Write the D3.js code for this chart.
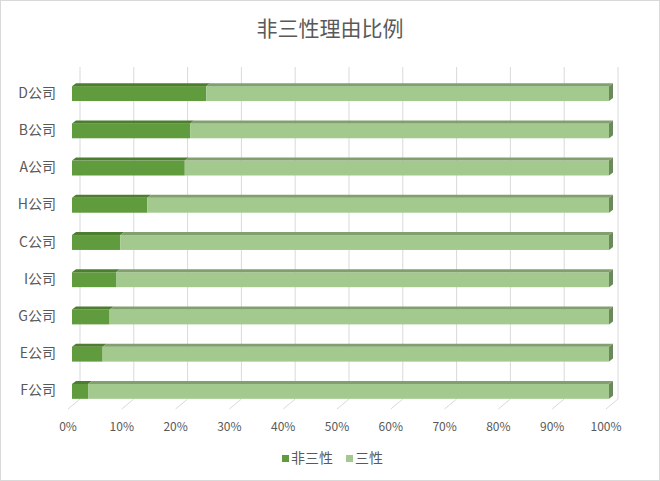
<!DOCTYPE html>
<html>
<head>
<meta charset="utf-8">
<script src="https://cdn.jsdelivr.net/npm/d3@7/dist/d3.min.js"></script>
<style>
  body { margin: 0; background: #fff; }
  svg { display: block; font-family: "Noto Sans CJK SC", "Noto Sans", sans-serif; }
</style>
</head>
<body>
<div id="chart"></div>
<script>
// data, top to bottom
const categories = ["D公司", "B公司", "A公司", "H公司", "C公司", "I公司", "G公司", "E公司", "F公司"];
const nonSanxing = [0.25, 0.22, 0.21, 0.14, 0.09, 0.082, 0.07, 0.057, 0.03];
const sanxing = nonSanxing.map(v => 1 - v);
const seriesNames = ["非三性", "三性"];
const tickValues = [0, 0.1, 0.2, 0.3, 0.4, 0.5, 0.6, 0.7, 0.8, 0.9, 1];

const width = 660, height = 481;
const colors = {
  front: ["#609b3d", "#a3c98e"],
  top: ["#4d7d2f", "#819f6f"],
  side: "#6b8a5b"
};

const svg = d3.select("#chart").append("svg")
  .attr("width", width)
  .attr("height", height);

svg.append("rect")
  .attr("x", 0.5).attr("y", 0.5)
  .attr("width", width - 1).attr("height", height - 1)
  .attr("fill", "#fff")
  .attr("stroke", "#d9d9d9");

// title
svg.append("text")
  .attr("x", width / 2)
  .attr("y", 36)
  .attr("text-anchor", "middle")
  .attr("font-size", 21)
  .attr("fill", "#595959")
  .text("非三性理由比例");

// 3d-ish geometry: back wall, bar plane, floor front edge
const xBack = d3.scaleLinear().domain([0, 1]).range([80, 618]);
const xFront = d3.scaleLinear().domain([0, 1]).range([72, 609]);
const xFloor = d3.scaleLinear().domain([0, 1]).range([68, 606]);
const gridTop = 67, gridBottom = 399, floorY = 409;
const depth = { dx: 4, dy: 3 };

const y = d3.scaleBand()
  .domain(categories)
  .range([74, 409]);
const barH = y.bandwidth() * 0.4;

// gridlines on back wall + floor diagonals
const grid = svg.append("g").attr("stroke", "#d9d9d9").attr("fill", "none");
grid.selectAll("path")
  .data(tickValues)
  .enter()
  .append("path")
  .attr("d", d => `M${xBack(d)},${gridTop}V${gridBottom}L${xFloor(d)},${floorY}`);

// tick labels
svg.append("g")
  .selectAll("text")
  .data(tickValues)
  .enter()
  .append("text")
  .attr("x", d => xFloor(d))
  .attr("y", floorY + 22)
  .attr("text-anchor", "middle")
  .attr("font-size", 12)
  .attr("fill", "#595959")
  .text(d3.format(".0%"));

// category labels
svg.append("g")
  .selectAll("text")
  .data(categories)
  .enter()
  .append("text")
  .attr("x", 56)
  .attr("y", d => y(d) + y.bandwidth() / 2 + 5)
  .attr("text-anchor", "end")
  .attr("font-size", 14)
  .attr("fill", "#595959")
  .text(d => d);

// stacked bars
const rows = categories.map((c, i) => ({ name: c, values: [nonSanxing[i], sanxing[i]] }));
const bars = svg.append("g");

rows.forEach(row => {
  const yTop = y(row.name) + (y.bandwidth() - barH) / 2 + 1;
  let acc = 0;
  const g = bars.append("g");
  row.values.forEach((v, k) => {
    const x0 = xFront(acc), x1 = xFront(acc + v);
    acc += v;
    g.append("rect")
      .attr("x", x0).attr("y", yTop)
      .attr("width", x1 - x0).attr("height", barH)
      .attr("fill", colors.front[k]);
    g.append("path")
      .attr("d", `M${x0},${yTop}L${x0 + depth.dx},${yTop - depth.dy}L${x1 + depth.dx},${yTop - depth.dy}L${x1},${yTop}Z`)
      .attr("fill", colors.top[k]);
  });
  const xe = xFront(acc);
  g.append("path")
    .attr("d", `M${xe},${yTop}L${xe + depth.dx},${yTop - depth.dy}L${xe + depth.dx},${yTop + barH - depth.dy}L${xe},${yTop + barH}Z`)
    .attr("fill", colors.side);
});

// legend
const legend = svg.append("g").attr("transform", "translate(0,463)");
const legendX = [282, 346];
seriesNames.forEach((s, k) => {
  legend.append("rect")
    .attr("x", legendX[k]).attr("y", -8)
    .attr("width", 7).attr("height", 7)
    .attr("fill", colors.front[k]);
  legend.append("text")
    .attr("x", legendX[k] + 9)
    .attr("y", 0)
    .attr("font-size", 14)
    .attr("fill", "#595959")
    .text(s);
});
</script>
</body>
</html>
